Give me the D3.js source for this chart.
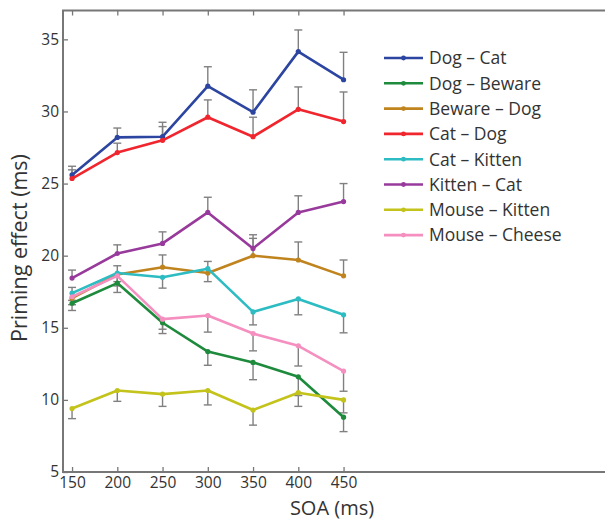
<!DOCTYPE html>
<html>
<head>
<meta charset="utf-8">
<script src="https://cdn.jsdelivr.net/npm/d3@7"></script>
<style>
  body { margin: 0; background: #fff; }
  text { font-family: "Open Sans", sans-serif; fill: #333; }
</style>
</head>
<body>
<div id="chart"></div>
<script>
var svgWidth = 605;
var svgHeight = 520;

// SOA values (ms)
var soa = [150, 200, 250, 300, 350, 400, 450];
var xTicks = [150, 200, 250, 300, 350, 400, 450];
var yTicks = [5, 10, 15, 20, 25, 30, 35];

var seriesNames = ["Dog \u2013 Cat", "Dog \u2013 Beware", "Beware \u2013 Dog", "Cat \u2013 Dog",
  "Cat \u2013 Kitten", "Kitten \u2013 Cat", "Mouse \u2013 Kitten", "Mouse \u2013 Cheese"];

var dogCat      = [25.6, 28.2, 28.25, 31.75, 29.95, 34.15, 32.2];
var dogBeware   = [16.7, 18.1, 15.35, 13.35, 12.6, 11.6, 8.8];
var bewareDog   = [17.05, 18.7, 19.2, 18.8, 20.0, 19.7, 18.6];
var catDog      = [25.35, 27.15, 28.0, 29.6, 28.25, 30.15, 29.3];
var catKitten   = [17.4, 18.8, 18.5, 19.1, 16.1, 17.0, 15.9];
var kittenCat   = [18.45, 20.15, 20.85, 23.0, 20.5, 23.0, 23.75];
var mouseKitten = [9.4, 10.65, 10.4, 10.65, 9.3, 10.5, 10.0];
var mouseCheese = [17.15, 18.6, 15.6, 15.85, 14.6, 13.75, 12.0];

// error bar lengths (only one side is drawn in the figure)
var dogCatErr      = [0.6, 0.65, 1.0, 1.35, 1.55, 1.5, 1.9];
var dogBewareErr   = [0.5, 0.65, 0.75, 0.95, 1.2, 1.3, 1.0];
var bewareDogErr   = [0.75, 0.6, 0.85, 0.8, 1.2, 1.25, 1.1];
var catDogErr      = [0.6, 0.65, 0.95, 1.2, 1.35, 1.55, 2.05];
var catKittenErr   = [0.5, 0.6, 0.75, 0.9, 0.9, 1.1, 1.25];
var kittenCatErr   = [0.55, 0.6, 0.8, 1.05, 0.95, 1.15, 1.25];
var mouseKittenErr = [0.7, 0.75, 0.85, 1.0, 1.05, 0.95, 0.9];
var mouseCheeseErr = [0.55, 0.7, 0.7, 1.15, 1.2, 1.4, 1.4];

var errSide = [1, -1, 1, 1, -1, 1, -1, -1];
var colors = ["#2c45a0", "#1d8a3c", "#c0841f", "#f0252d", "#2cbcc2", "#983a9c", "#c3c31c", "#f48fbf"];

var allValues = [dogCat, dogBeware, bewareDog, catDog, catKitten, kittenCat, mouseKitten, mouseCheese];
var allErrs = [dogCatErr, dogBewareErr, bewareDogErr, catDogErr, catKittenErr, kittenCatErr, mouseKittenErr, mouseCheeseErr];

var series = seriesNames.map(function(name, i) {
  return {
    name: name,
    color: colors[i],
    side: errSide[i],
    points: soa.map(function(s, j) { return { x: s, y: allValues[i][j], e: allErrs[i][j] }; })
  };
});

var svg = d3.select("#chart")
  .append("svg")
  .attr("width", svgWidth)
  .attr("height", svgHeight);

var plotLeft = 63, plotTop = 10.5, plotBottom = 472;

var xScale = d3.scaleLinear().domain([140, 740]).range([plotLeft, plotLeft + 600 * 0.905]);
var yScale = d3.scaleLinear().domain([5, 37]).range([plotBottom, plotTop]);

var axisColor = "#777";

// frame (box on, right side runs off the picture)
svg.append("path")
  .attr("d", `M${svgWidth + 5},${plotTop}H${plotLeft}V${plotBottom}H${svgWidth + 5}`)
  .attr("fill", "none")
  .attr("stroke", axisColor)
  .attr("stroke-width", 2);

// x ticks, bottom and top, pointing inward
svg.append("g").attr("transform", `translate(0, ${plotBottom})`)
  .call(d3.axisBottom(xScale).tickValues(xTicks).tickSizeInner(-5).tickSizeOuter(0).tickPadding(5));
svg.append("g").attr("transform", `translate(0, ${plotTop})`)
  .call(d3.axisTop(xScale).tickValues(xTicks).tickSizeInner(-5).tickSizeOuter(0).tickFormat(""));
svg.append("g").attr("transform", `translate(${plotLeft}, 0)`)
  .call(d3.axisLeft(yScale).tickValues(yTicks).tickSizeInner(-5).tickSizeOuter(0).tickPadding(4));

svg.selectAll(".domain").remove();
svg.selectAll(".tick line").attr("stroke", axisColor).attr("stroke-width", 1.3);
svg.selectAll(".tick text")
  .style("font-family", "'Open Sans', sans-serif")
  .style("font-size", "15.5px")
  .attr("fill", "#333");

// error bars
var errG = svg.append("g");
series.forEach(function(s) {
  s.points.forEach(function(p) {
    var x = xScale(p.x);
    var y0 = yScale(p.y);
    var y1 = yScale(p.y + s.side * p.e);
    errG.append("line")
      .attr("x1", x).attr("x2", x).attr("y1", y0).attr("y2", y1)
      .attr("stroke", "#808080").attr("stroke-width", 1.4);
    errG.append("line")
      .attr("x1", x - 4).attr("x2", x + 4).attr("y1", y1).attr("y2", y1)
      .attr("stroke", "#808080").attr("stroke-width", 1.4);
  });
});

var line = d3.line()
  .x(d => xScale(d.x))
  .y(d => yScale(d.y));

var seriesG = svg.append("g")
  .selectAll("g")
  .data(series)
  .enter()
  .append("g");

seriesG.append("path")
  .attr("d", d => line(d.points))
  .attr("fill", "none")
  .attr("stroke", d => d.color)
  .attr("stroke-width", 2.6)
  .attr("stroke-linejoin", "round");

seriesG.selectAll("circle")
  .data(d => d.points.map(p => ({ x: p.x, y: p.y, color: d.color })))
  .enter()
  .append("circle")
  .attr("cx", d => xScale(d.x))
  .attr("cy", d => yScale(d.y))
  .attr("r", 2.6)
  .attr("fill", d => d.color);

// legend
var legend = svg.append("g").attr("transform", "translate(384, 58)");
var legendRow = legend.selectAll("g")
  .data(series)
  .enter()
  .append("g")
  .attr("transform", (d, i) => `translate(0, ${i * 25.3})`);

legendRow.append("line")
  .attr("x1", 0).attr("x2", 39).attr("y1", 0).attr("y2", 0)
  .attr("stroke", d => d.color)
  .attr("stroke-width", 2.6);
legendRow.append("circle")
  .attr("cx", 19.5).attr("cy", 0).attr("r", 2.4)
  .attr("fill", d => d.color);
legendRow.append("text")
  .attr("x", 45)
  .attr("y", 0)
  .attr("dy", "0.36em")
  .style("font-size", "17.5px")
  .text(d => d.name);

// axis titles
svg.append("text")
  .attr("x", 332)
  .attr("y", 515)
  .attr("text-anchor", "middle")
  .style("font-size", "20px")
  .text("SOA (ms)");

svg.append("text")
  .attr("transform", "translate(27, 248) rotate(-90)")
  .attr("text-anchor", "middle")
  .style("font-size", "21.5px")
  .text("Priming effect (ms)");
</script>
</body>
</html>
